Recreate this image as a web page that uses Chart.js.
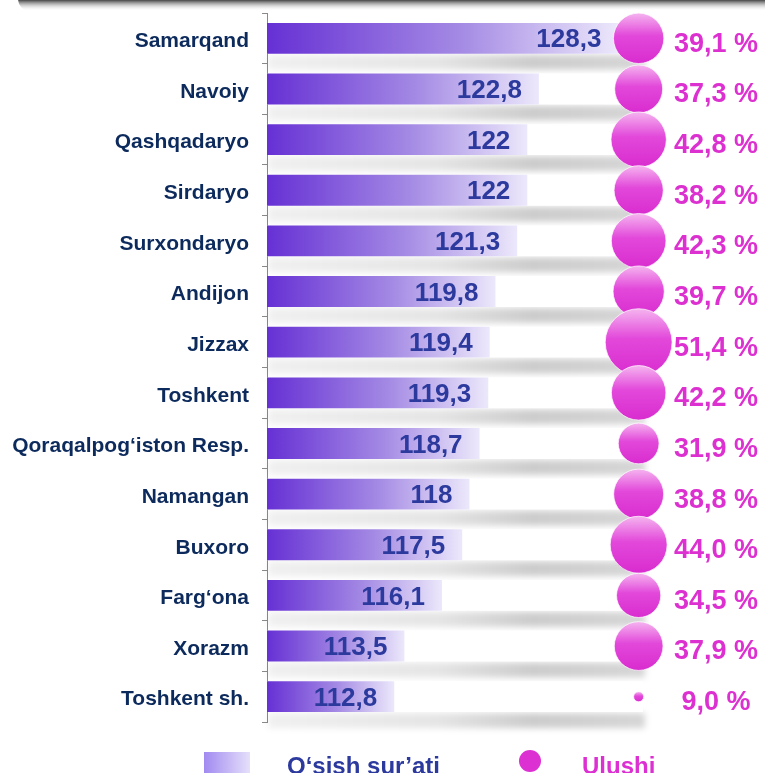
<!DOCTYPE html>
<html>
<head>
<meta charset="utf-8">
<script src="https://cdn.jsdelivr.net/npm/chart.js@4/dist/chart.umd.min.js"></script>
<style>
  html, body { margin: 0; padding: 0; background: #fff; }
  #wrap { width: 765px; height: 773px; }
</style>
</head>
<body>
<div id="wrap"><canvas id="growthChart"></canvas></div>
<script>
const regions = ['Samarqand', 'Navoiy', 'Qashqadaryo', 'Sirdaryo', 'Surxondaryo', 'Andijon', 'Jizzax',
  'Toshkent', 'Qoraqalpog\u2018iston Resp.', 'Namangan', 'Buxoro', 'Farg\u2018ona', 'Xorazm', 'Toshkent sh.'];
const growth = [128.3, 122.8, 122, 122, 121.3, 119.8, 119.4, 119.3, 118.7, 118, 117.5, 116.1, 113.5, 112.8];
const share = [39.1, 37.3, 42.8, 38.2, 42.3, 39.7, 51.4, 42.2, 31.9, 38.8, 44.0, 34.5, 37.9, 9.0];

const X_MIN = 104, X_MAX = 130;
const BUBBLE_X = 129.7;
const FONT = '"Liberation Sans", Arial, sans-serif';

const fmt = v => String(v).replace('.', ',');
const fmtPct = v => v.toFixed(1).replace('.', ',') + ' %';
const bubbleR = v => v * 0.67 - 1;

const ctx = document.getElementById('growthChart');

function barGradient(c) {
  const chart = c.chart;
  const area = chart.chartArea;
  if (!area) return '#9a7be2';
  const end = chart.scales.x.getPixelForValue(growth[c.dataIndex]);
  const g = chart.ctx.createLinearGradient(area.left, 0, end, 0);
  g.addColorStop(0, '#6630d4');
  g.addColorStop(0.55, '#a48ae4');
  g.addColorStop(1, '#ece8fb');
  return g;
}

function bubbleGradient(c) {
  const chart = c.chart;
  if (!chart.chartArea) return '#dd33d3';
  const cy = chart.scales.y.getPixelForValue(c.dataIndex);
  const r = bubbleR(share[c.dataIndex]);
  const g = chart.ctx.createLinearGradient(0, cy - r, 0, cy + r);
  g.addColorStop(0, '#f5b4ef');
  g.addColorStop(0.45, '#e248da');
  g.addColorStop(1, '#d92ccf');
  return g;
}

// soft grey "floor" under each white background bar
const shadowPlugin = {
  id: 'shadow',
  beforeDatasetsDraw(chart) {
    const c = chart.ctx;
    const area = chart.chartArea;
    const bars = chart.getDatasetMeta(0).data;
    c.save();
    c.filter = 'blur(3px)';
    bars.forEach(bar => {
      const left = area.left + 1, right = area.right + 2;
      const top = bar.y + bar.height / 2;
      const g = c.createLinearGradient(left, 0, right, 0);
      g.addColorStop(0, 'rgba(0,0,0,0.06)');
      g.addColorStop(0.45, 'rgba(0,0,0,0.1)');
      g.addColorStop(0.7, 'rgba(0,0,0,0.2)');
      g.addColorStop(1, 'rgba(0,0,0,0.16)');
      c.fillStyle = g;
      c.fillRect(left, top + 1, right - left, 15);
    });
    c.restore();
  }
};

const labelsPlugin = {
  id: 'labels',
  beforeDraw(chart) {
    const c = chart.ctx;
    c.save();
    const g = c.createLinearGradient(0, 0, 0, 11);
    g.addColorStop(0, 'rgba(60,60,60,0.95)');
    g.addColorStop(1, 'rgba(255,255,255,0)');
    c.fillStyle = g;
    c.beginPath();
    c.roundRect(18, -20, 800, 31, 12);
    c.fill();
    c.restore();
  },
  afterDatasetsDraw(chart) {
    const c = chart.ctx;
    const bars = chart.getDatasetMeta(1).data;
    c.save();
    c.textBaseline = 'middle';
    bars.forEach((bar, i) => {
      c.font = 'bold 26px ' + FONT;
      c.fillStyle = '#2c3a9e';
      c.textAlign = 'right';
      c.fillText(fmt(growth[i]), bar.x - 17, bar.y + 2);
      c.font = 'bold 27px ' + FONT;
      c.fillStyle = '#dd30d0';
      c.textAlign = 'center';
      c.fillText(fmtPct(share[i]), 716, bar.y + 6);
    });
    c.restore();
  },
  afterDraw(chart) {
    const c = chart.ctx;
    c.save();
    const g = c.createLinearGradient(204, 0, 250, 0);
    g.addColorStop(0, '#a18af0');
    g.addColorStop(1, '#e6e0fa');
    c.fillStyle = g;
    c.fillRect(204, 752, 46, 30);
    c.font = 'bold 24px ' + FONT;
    c.textBaseline = 'alphabetic';
    c.textAlign = 'left';
    c.fillStyle = '#2c3a9e';
    c.fillText('O\u2018sish sur\u2019ati', 287, 774);
    c.fillStyle = '#dd30d3';
    c.beginPath();
    c.arc(530, 761, 11, 0, Math.PI * 2);
    c.fill();
    c.fillText('Ulushi', 582, 774);
    c.restore();
  }
};

new Chart(ctx, {
  type: 'bar',
  data: {
    labels: regions,
    datasets: [
      {
        label: 'fon',
        data: regions.map(() => X_MAX),
        backgroundColor: '#ffffff',
        borderWidth: 0,
        grouped: false,
        categoryPercentage: 1,
        barPercentage: 0.61,
        order: 3
      },
      {
        label: 'O\u2018sish sur\u2019ati',
        data: growth,
        backgroundColor: barGradient,
        borderWidth: 0,
        grouped: false,
        categoryPercentage: 1,
        barPercentage: 0.61,
        order: 2
      },
      {
        type: 'bubble',
        label: 'Ulushi',
        data: regions.map(r => ({ x: BUBBLE_X, y: r })),
        xAxisID: 'x',
        yAxisID: 'y',
        radius: c => bubbleR(share[c.dataIndex]),
        backgroundColor: bubbleGradient,
        borderColor: 'rgba(255,255,255,0.7)',
        borderWidth: 1,
        clip: false,
        order: 1
      }
    ]
  },
  options: {
    indexAxis: 'y',
    responsive: true,
    maintainAspectRatio: false,
    animation: false,
    layout: { autoPadding: false, padding: { top: 13, right: 122, bottom: 51, left: 0 } },
    plugins: {
      legend: { display: false },
      tooltip: { enabled: false }
    },
    scales: {
      x: {
        display: false,
        min: X_MIN,
        max: X_MAX
      },
      y: {
        type: 'category',
        offset: true,
        afterFit(scale) {
          scale.width = 267;
          scale.paddingTop = 0;
          scale.paddingBottom = 0;
        },
        grid: {
          offset: true,
          drawOnChartArea: false,
          tickLength: 5,
          color: '#8a8a8a'
        },
        border: { color: '#8a8a8a', width: 1 },
        ticks: {
          padding: 13,
          labelOffset: 3,
          color: '#0c2a5c',
          font: { family: FONT, size: 21, weight: 'bold' }
        }
      }
    }
  },
  plugins: [shadowPlugin, labelsPlugin]
});
</script>
</body>
</html>
